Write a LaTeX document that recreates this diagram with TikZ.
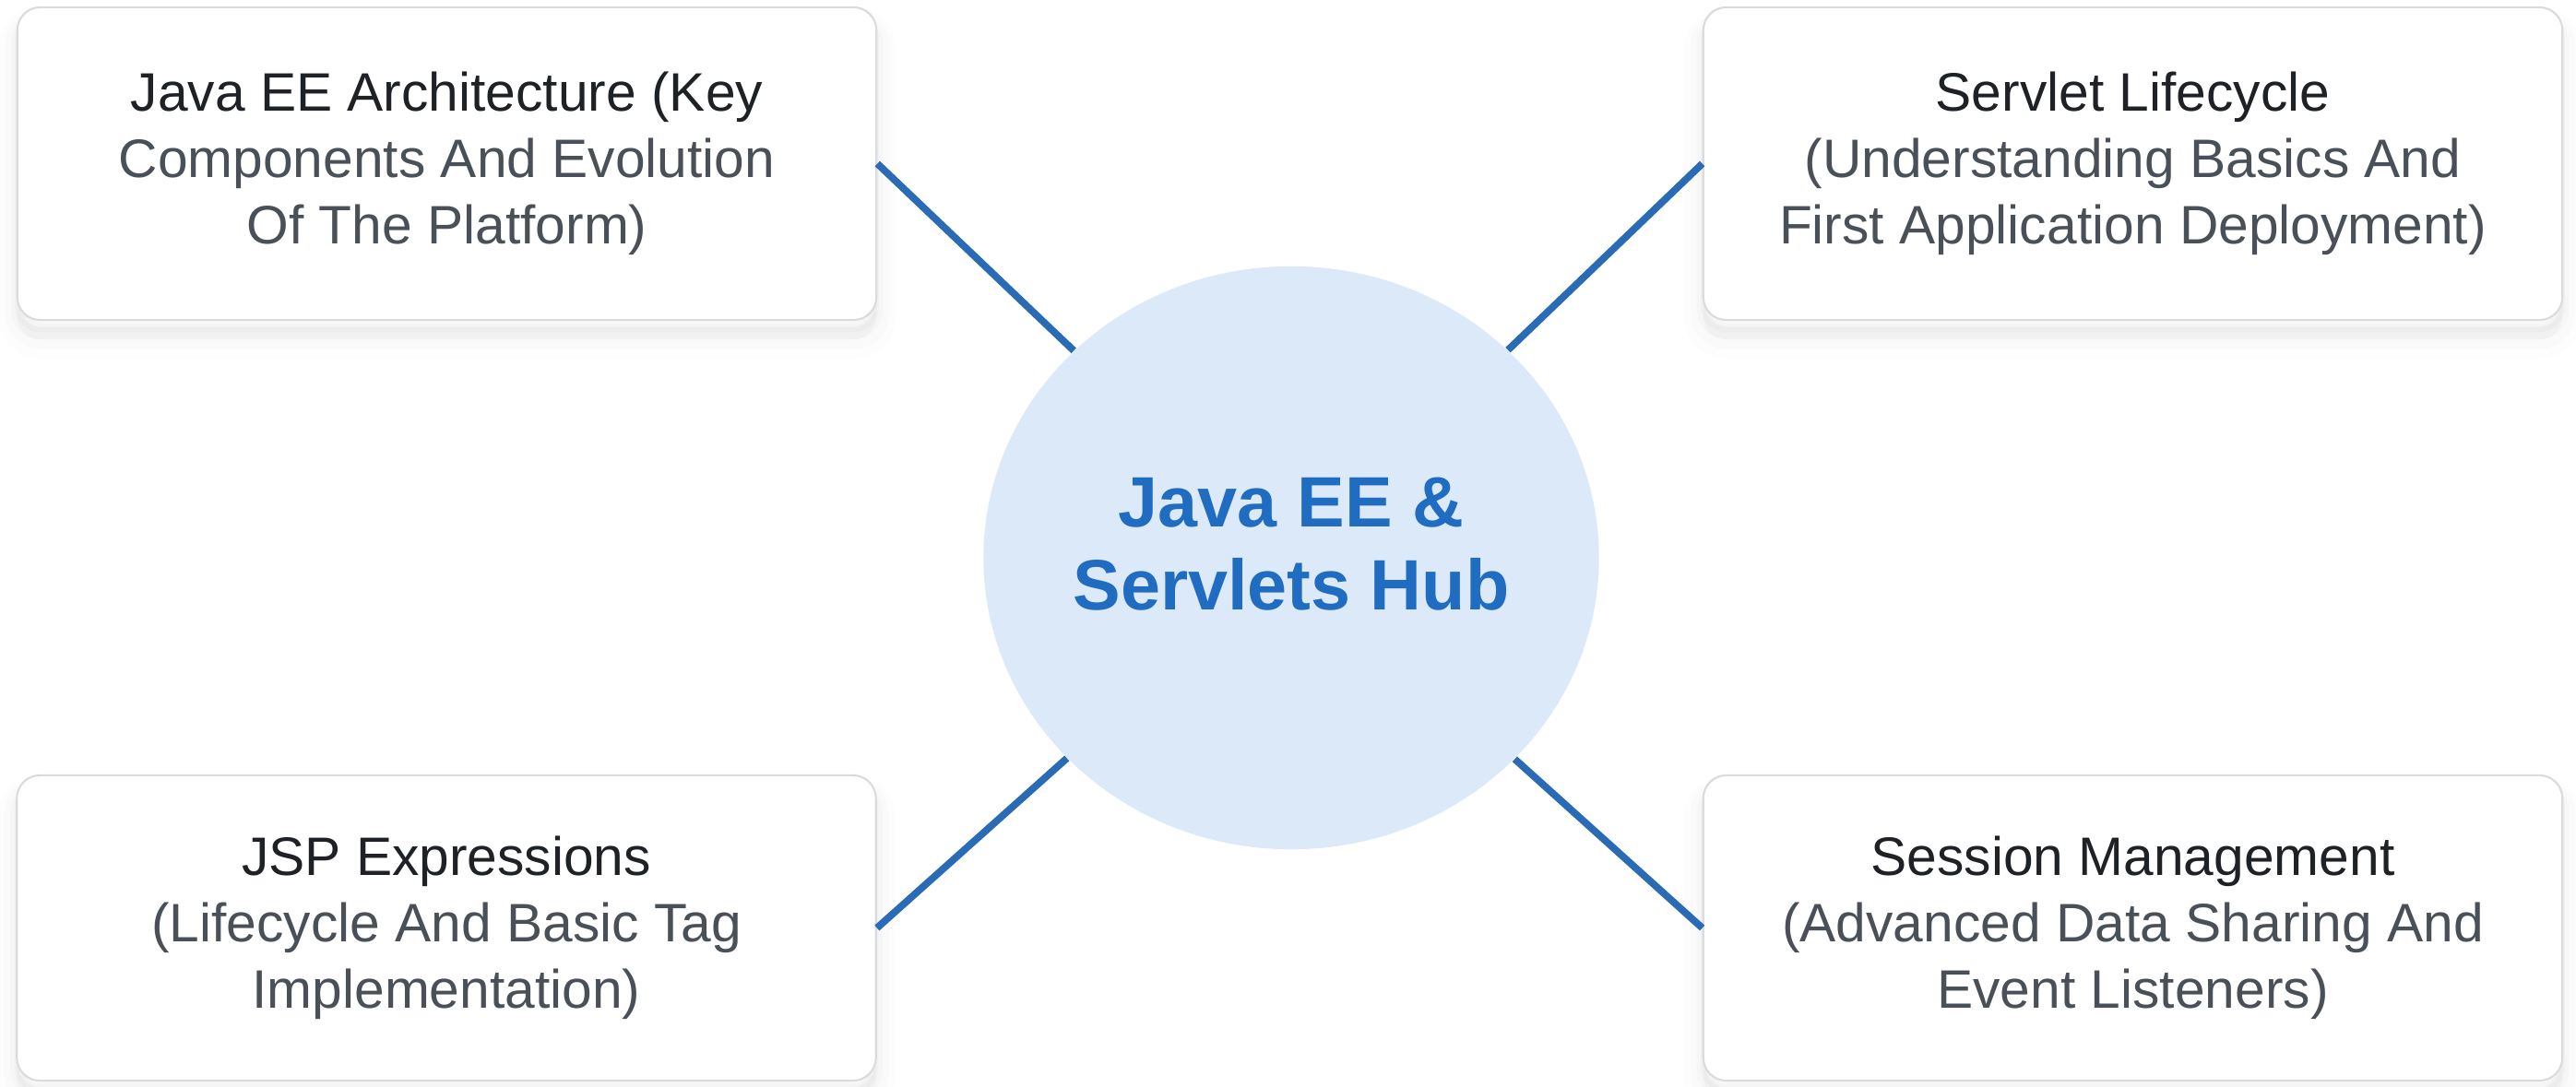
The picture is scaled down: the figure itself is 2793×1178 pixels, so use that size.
\documentclass[tikz,border=0pt]{standalone}
\usepackage{fontspec}
\setmainfont{Liberation Sans}
\usetikzlibrary{shapes.geometric}
\definecolor{titlecol}{HTML}{1E2125}
\definecolor{subcol}{HTML}{4A5058}
\definecolor{hubfill}{HTML}{DCE9F9}
\definecolor{hubtextcol}{HTML}{1F6CC0}
\definecolor{linkcol}{HTML}{2A6BB5}
\definecolor{boxborder}{HTML}{D9DBDF}
\begin{document}
\begin{tikzpicture}[x=0.01cm,y=-0.01cm,
  card/.style={draw=boxborder, line width=0.6pt, fill=white, rounded corners=0.25cm,
    minimum width=9.31cm, minimum height=3.39cm, inner sep=0pt, align=center,
    text=subcol, font=\fontsize{16.7}{20.5}\selectfont,
    preaction={transform canvas={yshift=-6pt}, draw=black, line width=12pt, draw opacity=0.008, fill=black, fill opacity=0.02},
    preaction={transform canvas={yshift=-5pt}, draw=black, line width=8pt, draw opacity=0.012},
    preaction={transform canvas={yshift=-4pt}, draw=black, line width=4pt, draw opacity=0.016},
    preaction={transform canvas={yshift=-3pt}, draw=black, line width=1.5pt, draw opacity=0.02}},
  hubstyle/.style={ellipse, fill=hubfill, minimum width=6.67cm, minimum height=6.32cm, inner sep=0pt},
  hublabel/.style={align=center, text=hubtextcol, font=\fontsize{22}{25.4}\selectfont\bfseries},
  link/.style={draw=linkcol, line width=2.2pt},
]
\useasboundingbox[fill=white] (0,0) rectangle (2793,1178);

\node[hubstyle] (hub) at (1400,605) {};
\node[hublabel] (hubtext) at (1400,590) {Java EE \&\\Servlets Hub};

\node[card] (tl) at (484.5,177.5) {{\color{titlecol}Java EE Architecture (Key}\\Components And Evolution\\Of The Platform)};
\node[card] (tr) at (2312.5,177.5) {{\color{titlecol}Servlet Lifecycle}\\(Understanding Basics And\\First Application Deployment)};
\node[card, minimum height=3.31cm] (bl) at (484,1006.5) {{\color{titlecol}JSP Expressions}\\(Lifecycle And Basic Tag\\Implementation)};
\node[card, minimum height=3.31cm] (br) at (2312.5,1006.5) {{\color{titlecol}Session Management}\\(Advanced Data Sharing And\\Event Listeners)};

\draw[link] (tl.east) -- (hub);
\draw[link] (tr.west) -- (hub);
\draw[link] (bl.east) -- (hub);
\draw[link] (br.west) -- (hub);
\end{tikzpicture}
\end{document}
